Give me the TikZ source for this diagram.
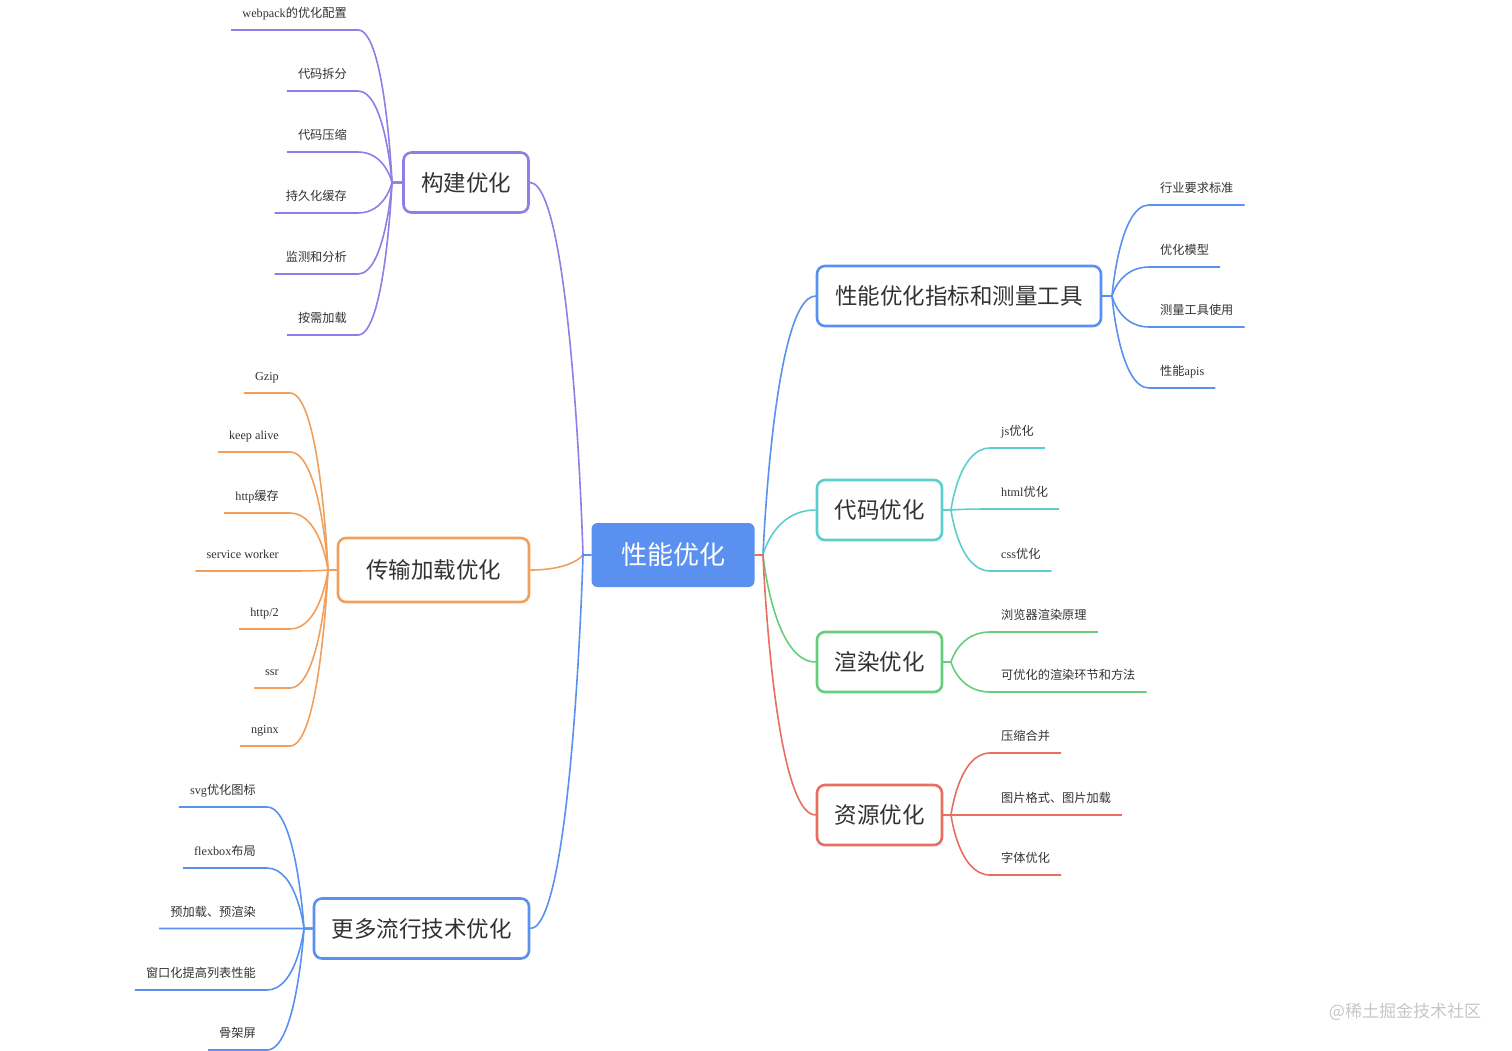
\documentclass[tikz,border=0pt]{standalone}
\usepackage{fontspec}
\setmainfont{Noto Sans CJK SC}
\newfontfamily\enfont{Liberation Serif}
\usepackage{tikz}
\usetikzlibrary{calc}
\definecolor{rootblue}{RGB}{90,145,240}
\definecolor{purp}{RGB}{142,126,230}
\definecolor{orng}{RGB}{240,160,92}
\definecolor{teal2}{RGB}{92,206,206}
\definecolor{grn}{RGB}{102,206,122}
\definecolor{redd}{RGB}{232,110,96}
\definecolor{ink}{RGB}{50,50,50}
\tikzset{
    twig/.style={to path={.. controls ($(\tikztostart)!0.8!(\tikztotarget|-\tikztostart)$) and (\tikztotarget) .. (\tikztotarget)}},
    topic/.style={rectangle, rounded corners=8pt, draw, line width=2.6pt, fill=white, text=ink, align=center, minimum height=60pt, inner xsep=8pt, font=\fontsize{22.5}{27}\selectfont},
    leaf/.style={rectangle, inner xsep=11pt, inner ysep=10pt, text height=10pt, text depth=2pt, text=ink, font=\fontsize{12.2}{15}\selectfont},
    branch/.style={line width=1.6pt}
}
\begin{document}
\begin{tikzpicture}[x=1pt, y=-1pt,
    rootbox/.style={rectangle, rounded corners=6pt, fill=rootblue, text=white, minimum width=163pt, minimum height=64pt, font=\fontsize{26}{30}\selectfont}
]
    \useasboundingbox (0,0) rectangle (1512,1050);

    \node[rootbox] (root) at (673,555) {性能优化};

    \node[topic, draw=purp, minimum width=125pt] (kb) at (466,182.5) {构建优化};
    \node[topic, draw=orng, minimum width=191pt, minimum height=64pt] (cs) at (433.5,570) {传输加载优化};
    \node[topic, draw=rootblue, minimum width=215pt] (gd) at (421.5,928.5) {更多流行技术优化};
    \node[topic, draw=rootblue, minimum width=284pt] (pk) at (959,296) {性能优化指标和测量工具};
    \node[topic, draw=teal2, minimum width=125pt] (dm) at (879.5,510) {代码优化};
    \node[topic, draw=grn, minimum width=125pt] (xr) at (879.5,662) {渲染优化};
    \node[topic, draw=redd, minimum width=125pt] (zy) at (879.5,815) {资源优化};

    \coordinate (cl) at (583,555);
    \coordinate (cr) at (763,555);
    \coordinate (ckb) at (392,182.5);
    \coordinate (ccs) at (328,570);
    \coordinate (cgd) at (304,928.5);
    \coordinate (cpk) at (1112,296);
    \coordinate (cdm) at (951,510);
    \coordinate (cxr) at (951,662);
    \coordinate (czy) at (951,815);

    % main branches
    \draw[branch, purp] (kb.east) to[twig] (cl) -- (root.west);
    \draw[branch, orng] (cs.east) to[twig] (cl) -- (root.west);
    \draw[branch, rootblue] (gd.east) to[twig] (cl) -- (root.west);
    \draw[branch, rootblue] (pk.west) to[twig] (cr) -- (root.east);
    \draw[branch, teal2] (dm.west) to[twig] (cr) -- (root.east);
    \draw[branch, grn] (xr.west) to[twig] (cr) -- (root.east);
    \draw[branch, redd] (zy.west) to[twig] (cr) -- (root.east);

    % 构建优化
    \node[leaf, anchor=south east] (kb1) at (358,30) {{\enfont webpack}的优化配置};
    \node[leaf, anchor=south east] (kb2) at (358,91) {代码拆分};
    \node[leaf, anchor=south east] (kb3) at (358,152) {代码压缩};
    \node[leaf, anchor=south east] (kb4) at (358,213) {持久化缓存};
    \node[leaf, anchor=south east] (kb5) at (358,274) {监测和分析};
    \node[leaf, anchor=south east] (kb6) at (358,335) {按需加载};
    \draw[branch, purp] (kb1.south west) -- (kb1.south east) to[twig] (ckb) -- (kb.west);
    \draw[branch, purp] (kb2.south west) -- (kb2.south east) to[twig] (ckb) -- (kb.west);
    \draw[branch, purp] (kb3.south west) -- (kb3.south east) to[twig] (ckb) -- (kb.west);
    \draw[branch, purp] (kb4.south west) -- (kb4.south east) to[twig] (ckb) -- (kb.west);
    \draw[branch, purp] (kb5.south west) -- (kb5.south east) to[twig] (ckb) -- (kb.west);
    \draw[branch, purp] (kb6.south west) -- (kb6.south east) to[twig] (ckb) -- (kb.west);

    % 传输加载优化
    \node[leaf, anchor=south east] (cs1) at (290,393) {\enfont Gzip};
    \node[leaf, anchor=south east] (cs2) at (290,452) {\enfont keep alive};
    \node[leaf, anchor=south east] (cs3) at (290,513) {{\enfont http}缓存};
    \node[leaf, anchor=south east] (cs4) at (290,571) {\enfont service worker};
    \node[leaf, anchor=south east] (cs5) at (290,629) {\enfont http/2};
    \node[leaf, anchor=south east] (cs6) at (290,688) {\enfont ssr};
    \node[leaf, anchor=south east] (cs7) at (290,746) {\enfont nginx};
    \draw[branch, orng] (cs1.south west) -- (cs1.south east) to[twig] (ccs) -- (cs.west);
    \draw[branch, orng] (cs2.south west) -- (cs2.south east) to[twig] (ccs) -- (cs.west);
    \draw[branch, orng] (cs3.south west) -- (cs3.south east) to[twig] (ccs) -- (cs.west);
    \draw[branch, orng] (cs4.south west) -- (cs4.south east) to[twig] (ccs) -- (cs.west);
    \draw[branch, orng] (cs5.south west) -- (cs5.south east) to[twig] (ccs) -- (cs.west);
    \draw[branch, orng] (cs6.south west) -- (cs6.south east) to[twig] (ccs) -- (cs.west);
    \draw[branch, orng] (cs7.south west) -- (cs7.south east) to[twig] (ccs) -- (cs.west);

    % 更多流行技术优化
    \node[leaf, anchor=south east] (gd1) at (267,807) {{\enfont svg}优化图标};
    \node[leaf, anchor=south east] (gd2) at (267,868) {{\enfont flexbox}布局};
    \node[leaf, anchor=south east] (gd3) at (267,928.5) {预加载、预渲染};
    \node[leaf, anchor=south east] (gd4) at (267,990) {窗口化提高列表性能};
    \node[leaf, anchor=south east] (gd5) at (267,1050) {骨架屏};
    \draw[branch, rootblue] (gd1.south west) -- (gd1.south east) to[twig] (cgd) -- (gd.west);
    \draw[branch, rootblue] (gd2.south west) -- (gd2.south east) to[twig] (cgd) -- (gd.west);
    \draw[branch, rootblue] (gd3.south west) -- (gd3.south east) to[twig] (cgd) -- (gd.west);
    \draw[branch, rootblue] (gd4.south west) -- (gd4.south east) to[twig] (cgd) -- (gd.west);
    \draw[branch, rootblue] (gd5.south west) -- (gd5.south east) to[twig] (cgd) -- (gd.west);

    % 性能优化指标和测量工具
    \node[leaf, anchor=south west] (pk1) at (1149,205) {行业要求标准};
    \node[leaf, anchor=south west] (pk2) at (1149,267) {优化模型};
    \node[leaf, anchor=south west] (pk3) at (1149,327) {测量工具使用};
    \node[leaf, anchor=south west] (pk4) at (1149,388) {性能{\enfont apis}};
    \draw[branch, rootblue] (pk1.south east) -- (pk1.south west) to[twig] (cpk) -- (pk.east);
    \draw[branch, rootblue] (pk2.south east) -- (pk2.south west) to[twig] (cpk) -- (pk.east);
    \draw[branch, rootblue] (pk3.south east) -- (pk3.south west) to[twig] (cpk) -- (pk.east);
    \draw[branch, rootblue] (pk4.south east) -- (pk4.south west) to[twig] (cpk) -- (pk.east);

    % 代码优化
    \node[leaf, anchor=south west] (dm1) at (990,448) {{\enfont js}优化};
    \node[leaf, anchor=south west] (dm2) at (990,509) {{\enfont html}优化};
    \node[leaf, anchor=south west] (dm3) at (990,571) {{\enfont css}优化};
    \draw[branch, teal2] (dm1.south east) -- (dm1.south west) to[twig] (cdm) -- (dm.east);
    \draw[branch, teal2] (dm2.south east) -- (dm2.south west) to[twig] (cdm) -- (dm.east);
    \draw[branch, teal2] (dm3.south east) -- (dm3.south west) to[twig] (cdm) -- (dm.east);

    % 渲染优化
    \node[leaf, anchor=south west] (xr1) at (990,632) {浏览器渲染原理};
    \node[leaf, anchor=south west] (xr2) at (990,692) {可优化的渲染环节和方法};
    \draw[branch, grn] (xr1.south east) -- (xr1.south west) to[twig] (cxr) -- (xr.east);
    \draw[branch, grn] (xr2.south east) -- (xr2.south west) to[twig] (cxr) -- (xr.east);

    % 资源优化
    \node[leaf, anchor=south west] (zy1) at (990,753) {压缩合并};
    \node[leaf, anchor=south west] (zy2) at (990,815) {图片格式、图片加载};
    \node[leaf, anchor=south west] (zy3) at (990,875) {字体优化};
    \draw[branch, redd] (zy1.south east) -- (zy1.south west) to[twig] (czy) -- (zy.east);
    \draw[branch, redd] (zy2.south east) -- (zy2.south west) to[twig] (czy) -- (zy.east);
    \draw[branch, redd] (zy3.south east) -- (zy3.south west) to[twig] (czy) -- (zy.east);

    \node[text=gray!45, font=\fontsize{17}{20}\selectfont] (mark) at (1405,1012) {@稀土掘金技术社区};
\end{tikzpicture}
\end{document}
